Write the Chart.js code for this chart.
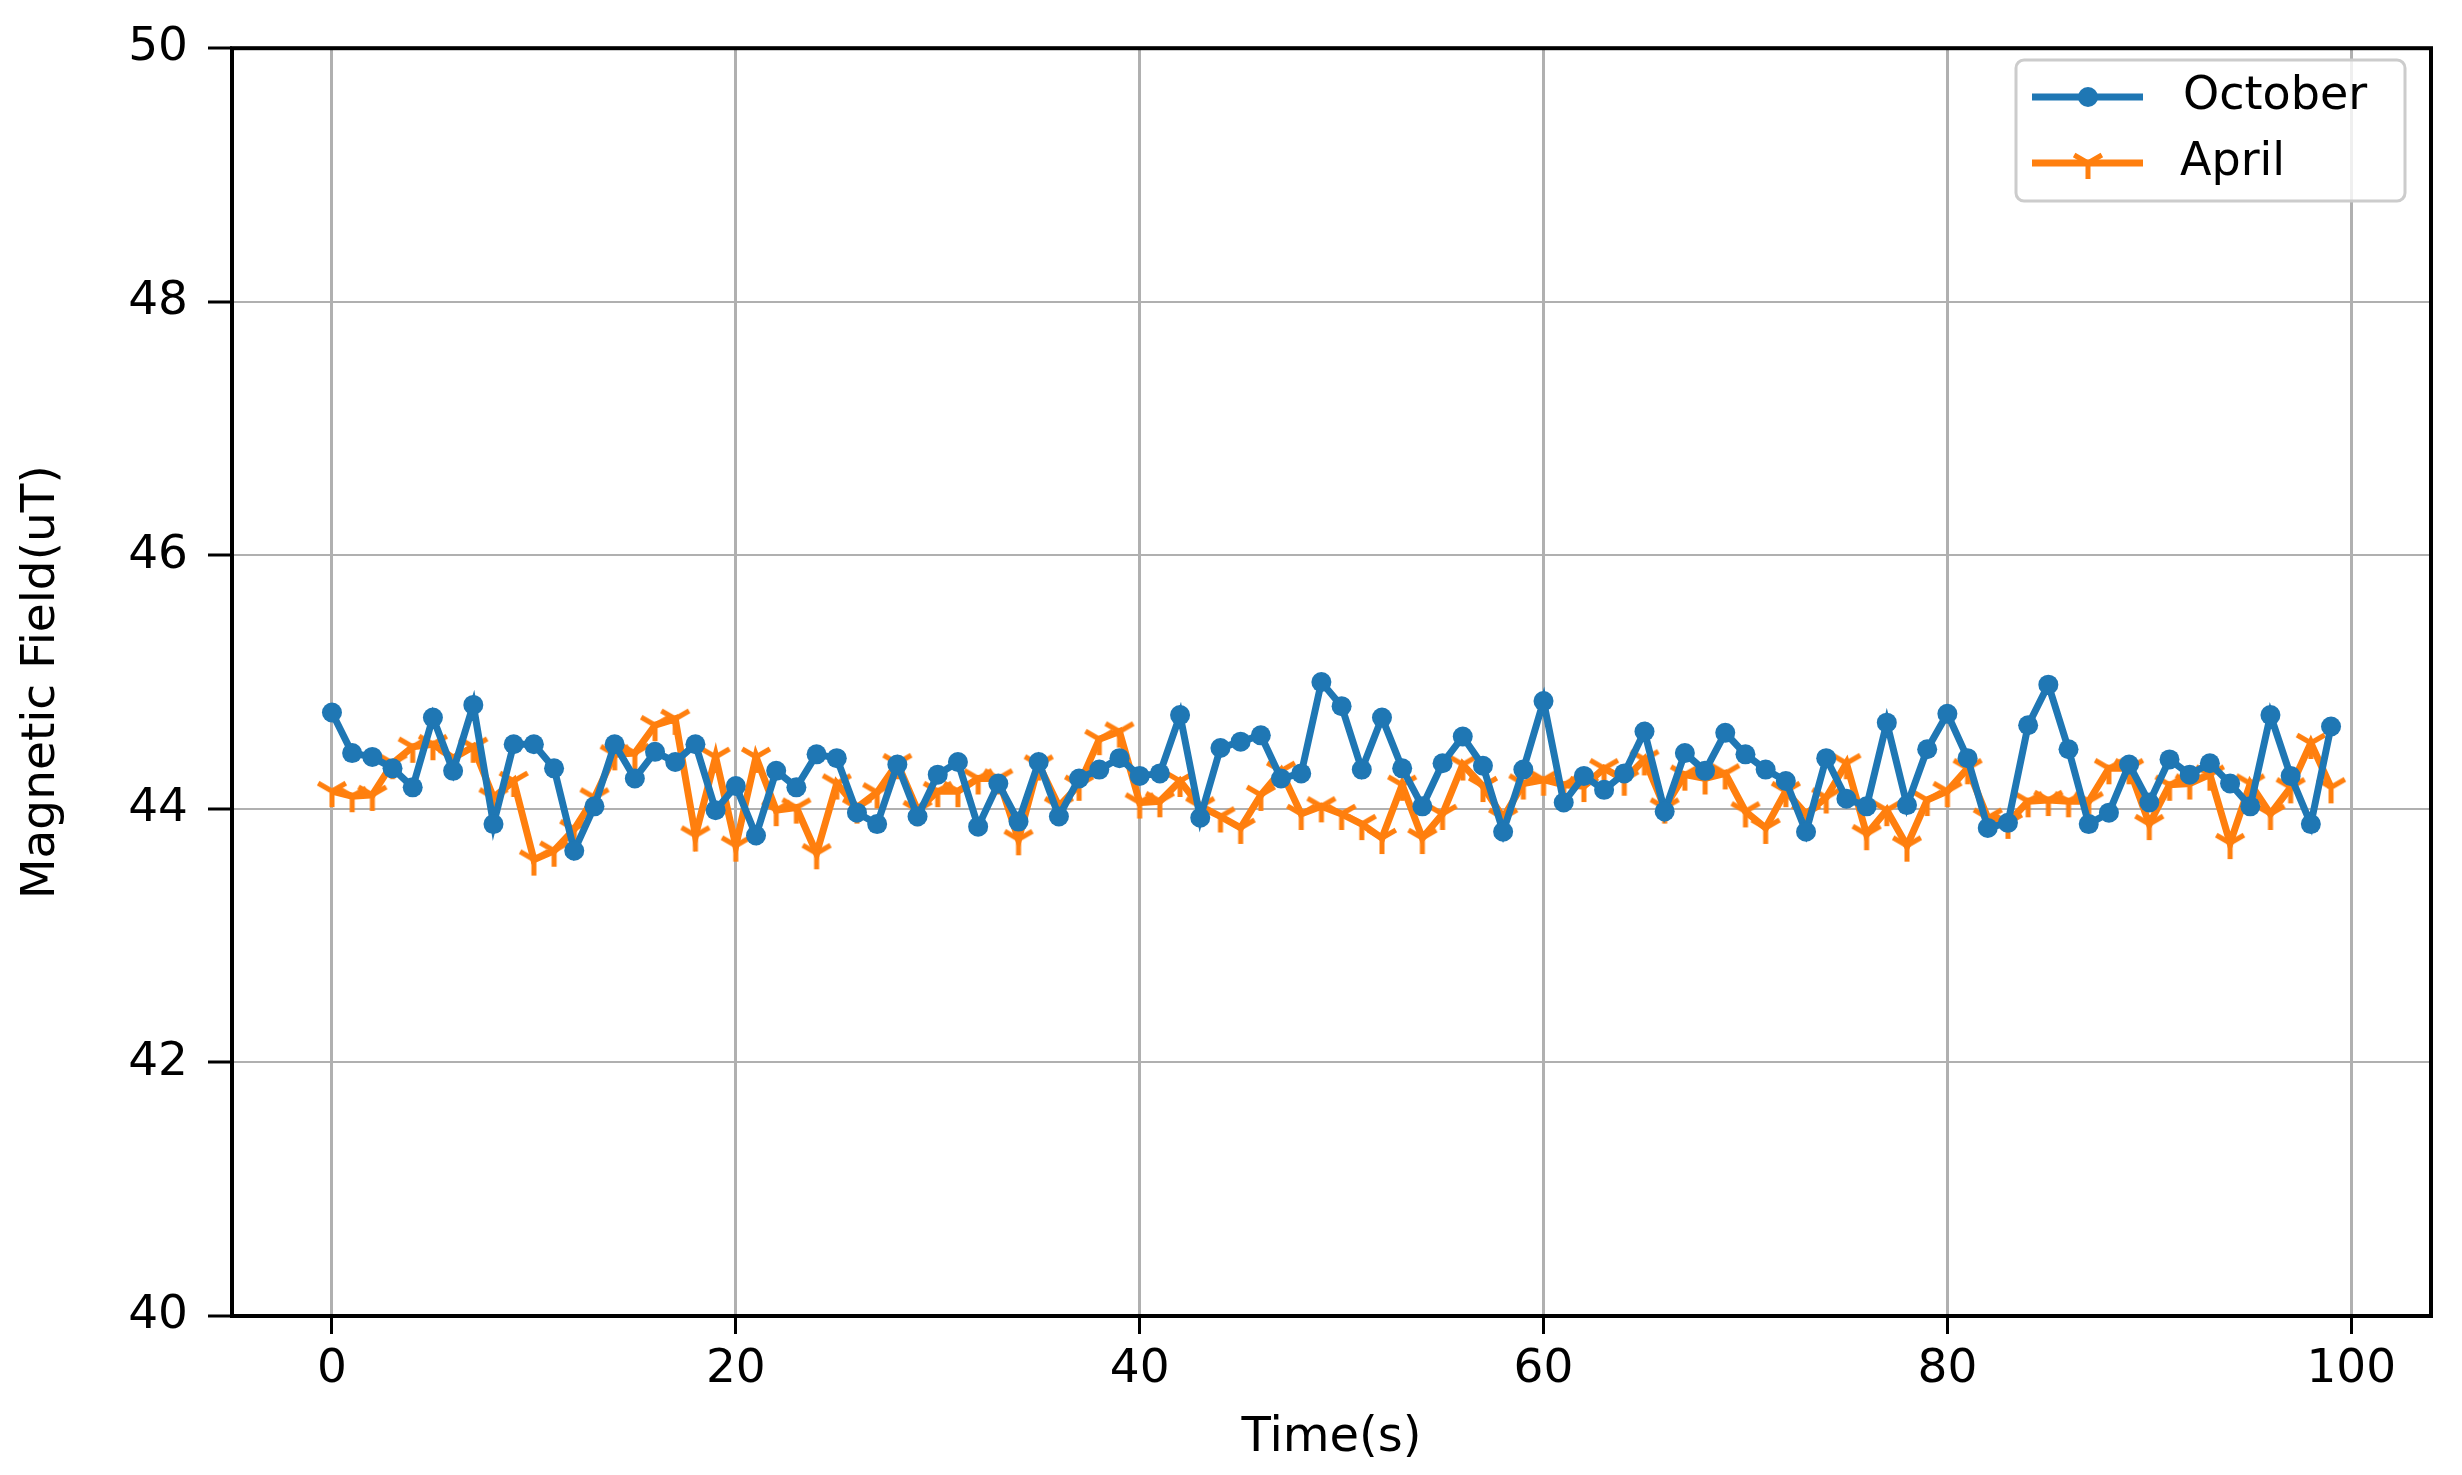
<!DOCTYPE html>
<html>
<head>
<meta charset="utf-8">
<script src="https://cdn.jsdelivr.net/npm/chart.js@4.4.1/dist/chart.umd.min.js"></script>
<style>
  html, body { margin: 0; padding: 0; background: #fff; }
  #wrap { width: 2462px; height: 1475px; }
</style>
</head>
<body>
<div id="wrap"><canvas id="magChart"></canvas></div>
<script>
/* Magnetic field readings, one per second */

// time stamps 0..99 s (category positions)
const TIME = Array.from({ length: 100 }, (_, i) => i);

const OCTOBER = [
  44.76, 44.44, 44.41, 44.32, 44.17, 44.72, 44.30, 44.82, 43.88, 44.51,
  44.51, 44.32, 43.67, 44.02, 44.51, 44.24, 44.45, 44.37, 44.51, 43.99,
  44.18, 43.79, 44.30, 44.17, 44.43, 44.40, 43.97, 43.88, 44.35, 43.94,
  44.27, 44.37, 43.86, 44.20, 43.90, 44.37, 43.94, 44.24, 44.31, 44.40,
  44.26, 44.28, 44.74, 43.93, 44.48, 44.53, 44.58, 44.24, 44.28, 45.00,
  44.81, 44.31, 44.72, 44.32, 44.02, 44.36, 44.57, 44.34, 43.82, 44.31,
  44.85, 44.05, 44.26, 44.15, 44.28, 44.61, 43.98, 44.44, 44.30, 44.60,
  44.43, 44.31, 44.22, 43.82, 44.40, 44.08, 44.02, 44.68, 44.03, 44.47,
  44.75, 44.40, 43.85, 43.89, 44.66, 44.98, 44.47, 43.88, 43.97, 44.35,
  44.05, 44.39, 44.27, 44.36, 44.20, 44.02, 44.74, 44.26, 43.88, 44.65,
];

const APRIL = [
  44.14, 44.10, 44.11, 44.36, 44.49, 44.51, 44.40, 44.49, 44.09, 44.22,
  43.60, 43.67, 43.84, 44.09, 44.43, 44.44, 44.66, 44.71, 43.79, 44.41,
  43.71, 44.41, 43.99, 44.01, 43.65, 44.20, 44.01, 44.13, 44.36, 43.99,
  44.14, 44.14, 44.24, 44.24, 43.76, 44.35, 44.02, 44.19, 44.55, 44.61,
  44.05, 44.06, 44.22, 44.02, 43.94, 43.85, 44.11, 44.30, 43.96, 44.02,
  43.96, 43.88, 43.77, 44.19, 43.77, 43.96, 44.35, 44.18, 43.93, 44.20,
  44.23, 44.19, 44.18, 44.32, 44.23, 44.39, 44.01, 44.27, 44.24, 44.28,
  43.98, 43.85, 44.14, 43.96, 44.09, 44.36, 43.80, 43.99, 43.71, 44.07,
  44.14, 44.32, 43.93, 43.89, 44.06, 44.07, 44.06, 44.06, 44.32, 44.32,
  43.88, 44.19, 44.20, 44.27, 43.73, 44.20, 43.96, 44.17, 44.52, 44.17,
];

const X_TICKS = [0, 20, 40, 60, 80, 100];
const Y_TICKS = [40, 42, 44, 46, 48, 50];

const BLUE   = '#1f77b4';
const ORANGE = '#ff7f0e';
const FONT   = 'DejaVu Sans';

// matplotlib '1' marker (tri_down) as an image point style
function triDown(r, color, lw) {
  const c = document.createElement('canvas');
  const s = Math.ceil(2 * r + lw * 2);
  c.width = c.height = s;
  const g = c.getContext('2d');
  const cx = s / 2, cy = s / 2;
  g.strokeStyle = color; g.lineWidth = lw;
  g.beginPath();
  g.moveTo(cx, cy); g.lineTo(cx, cy + r);
  g.moveTo(cx, cy); g.lineTo(cx - 0.866 * r, cy - 0.5 * r);
  g.moveTo(cx, cy); g.lineTo(cx + 0.866 * r, cy - 0.5 * r);
  g.stroke();
  return c;
}
const triMarker = triDown(16, ORANGE, 5);

// black box round the plot area + matplotlib-style legend
const framePlugin = {
  id: 'frame',
  afterDraw(chart) {
    const { ctx, chartArea: a } = chart;
    ctx.save();
    ctx.strokeStyle = '#000'; ctx.lineWidth = 4;
    ctx.strokeRect(a.left, a.top, a.right - a.left, a.bottom - a.top);

    // legend box
    const bx = 2016, by = 60, bw = 389, bh = 141, rad = 8;
    ctx.beginPath();
    ctx.moveTo(bx + rad, by);
    ctx.arcTo(bx + bw, by, bx + bw, by + bh, rad);
    ctx.arcTo(bx + bw, by + bh, bx, by + bh, rad);
    ctx.arcTo(bx, by + bh, bx, by, rad);
    ctx.arcTo(bx, by, bx + bw, by, rad);
    ctx.closePath();
    ctx.fillStyle = 'rgba(255,255,255,0.8)'; ctx.fill();
    ctx.strokeStyle = '#cccccc'; ctx.lineWidth = 3; ctx.stroke();

    const rows = [
      { y: 97,  color: BLUE,   label: 'October', tx: 2183, dot: true },
      { y: 163, color: ORANGE, label: 'April',   tx: 2180, dot: false },
    ];
    rows.forEach(r => {
      ctx.strokeStyle = r.color; ctx.lineWidth = 7;
      ctx.beginPath(); ctx.moveTo(2032, r.y); ctx.lineTo(2143, r.y); ctx.stroke();
      if (r.dot) {
        ctx.fillStyle = r.color;
        ctx.beginPath(); ctx.arc(2088, r.y, 10, 0, Math.PI * 2); ctx.fill();
      } else {
        ctx.drawImage(triMarker, 2088 - triMarker.width / 2, r.y - triMarker.height / 2);
      }
      ctx.fillStyle = '#000';
      ctx.font = `46px "${FONT}"`;
      ctx.textBaseline = 'middle'; ctx.textAlign = 'left';
      ctx.fillText(r.label, r.tx, r.y);
    });
    ctx.restore();
  },
};

new Chart(document.getElementById('magChart').getContext('2d'), {
  type: 'line',
  data: {
    datasets: [
      {
        label: 'October',
        data: OCTOBER.map((v, i) => ({ x: TIME[i], y: v })),
        borderColor: BLUE, backgroundColor: BLUE,
        borderWidth: 7, tension: 0,
        pointStyle: 'circle', pointRadius: 10, pointBorderWidth: 0,
        pointBackgroundColor: BLUE,
      },
      {
        label: 'April',
        data: APRIL.map((v, i) => ({ x: TIME[i], y: v })),
        borderColor: ORANGE, backgroundColor: ORANGE,
        borderWidth: 7, tension: 0,
        pointStyle: triMarker, pointRadius: 16,
      },
    ],
  },
  options: {
    responsive: true,
    maintainAspectRatio: false,
    animation: false,
    layout: { padding: { left: 0, top: 43, right: 31, bottom: 0 } },
    plugins: { legend: { display: false }, tooltip: { enabled: false } },
    scales: {
      x: {
        type: 'linear', min: -4.95, max: 103.95,
        afterBuildTicks: s => { s.ticks = X_TICKS.map(v => ({ value: v })); },
        afterFit: s => { s.height = 159; },
        grid: { color: '#b0b0b0', lineWidth: 3, tickColor: '#000', tickWidth: 3, tickLength: 18 },
        border: { display: false },
        ticks: { color: '#000', font: { family: FONT, size: 47 }, padding: 8, maxRotation: 0 },
        title: { display: true, text: 'Time(s)', color: '#000',
                 font: { family: FONT, size: 48 }, padding: { top: 0, bottom: 8 } },
      },
      y: {
        min: 40, max: 50,
        afterBuildTicks: s => { s.ticks = Y_TICKS.map(v => ({ value: v })); },
        afterFit: s => { s.width = 232; },
        grid: { color: '#b0b0b0', lineWidth: 2, tickColor: '#000', tickWidth: 3, tickLength: 24 },
        border: { display: false },
        ticks: { color: '#000', font: { family: FONT, size: 47 }, padding: 20 },
        title: { display: true, text: 'Magnetic Field(uT)', color: '#000',
                 font: { family: FONT, size: 47 }, padding: { top: 14, bottom: 0 } },
      },
    },
  },
  plugins: [framePlugin],
});
</script>
</body>
</html>
